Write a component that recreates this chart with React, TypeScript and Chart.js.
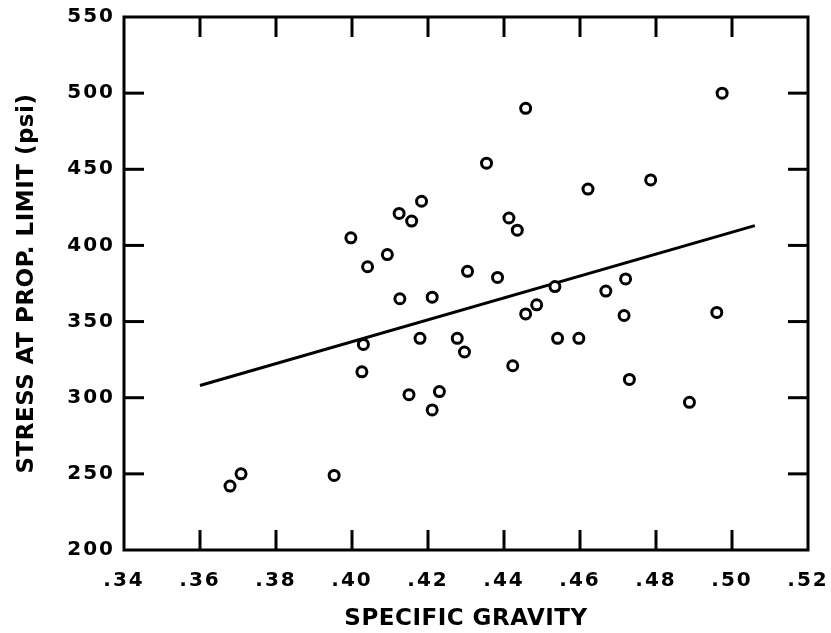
import React, { useEffect, useRef } from 'react';
import { Chart, registerables } from 'chart.js';

Chart.register(...registerables);

// ---- data ----
const specificGravity = [
  0.3679, 0.3708, 0.3953, 0.3997, 0.4041, 0.4093, 0.4124, 0.4157, 0.4183, 0.4126,
  0.4211, 0.4179, 0.403, 0.4026, 0.415, 0.423, 0.4211, 0.4457, 0.4974, 0.4354,
  0.4621, 0.4786, 0.4413, 0.4435, 0.4304, 0.4383, 0.4534, 0.472, 0.4668, 0.4716,
  0.496, 0.4457, 0.4486, 0.4277, 0.4296, 0.4541, 0.4597, 0.4423, 0.473, 0.4888,
];
const stressPsi = [
  242, 250, 249, 405, 386, 394, 421, 416, 429, 365,
  366, 339, 335, 317, 302, 304, 292, 490, 500, 454,
  437, 443, 418, 410, 383, 379, 373, 378, 370, 354,
  356, 355, 361, 339, 330, 339, 339, 321, 312, 297,
];
const fitLineGravity = [0.36, 0.506];
const fitLineStress = [308, 413];

const xMin = 0.34;
const xMax = 0.52;
const xStep = 0.02;
const yMin = 200;
const yMax = 550;
const yStep = 50;

const xTitle = 'SPECIFIC GRAVITY';
const yTitle = 'STRESS AT PROP. LIMIT (psi)';

const FONT = "'DejaVu Sans', sans-serif";

const frameTicksPlugin = {
  id: 'frameTicks',
  beforeDraw(chart: any) {
    for (const id of ['x', 'y']) {
      const s: any = chart.scales[id];
      if (s && !s.__patched) {
        const dl = s.drawLabels.bind(s);
        const dt = s.drawTitle.bind(s);
        s.drawLabels = (area: any) => {
          const c: any = chart.ctx;
          c.save();
          c.letterSpacing = '2px';
          dl(area);
          c.restore();
        };
        s.drawTitle = () => {
          const c: any = chart.ctx;
          c.save();
          c.letterSpacing = '0.5px';
          dt();
          c.restore();
        };
        s.__patched = true;
      }
    }
  },
  afterDraw(chart: any) {
    const { ctx, chartArea } = chart;
    const { left, right, top, bottom } = chartArea;
    const len = 20;
    const w = 3;
    const xs = chart.scales.x;
    const ys = chart.scales.y;
    ctx.save();
    ctx.fillStyle = '#000';
    ctx.strokeStyle = '#000';
    ctx.lineWidth = 3;
    const nx = Math.round((xMax - xMin) / xStep);
    for (let i = 1; i < nx; i++) {
      const px = xs.getPixelForValue(xMin + i * xStep);
      ctx.fillRect(px - w / 2, bottom - len, w, len);
      ctx.fillRect(px - w / 2, top, w, len);
    }
    const ny = Math.round((yMax - yMin) / yStep);
    for (let i = 1; i < ny; i++) {
      const py = ys.getPixelForValue(yMin + i * yStep);
      ctx.fillRect(left, py - w / 2, len, w);
      ctx.fillRect(right - len, py - w / 2, len, w);
    }
    ctx.strokeRect(left, top, right - left, bottom - top);
    ctx.restore();
  },
};

export default function App() {
  const canvasRef = useRef<HTMLCanvasElement | null>(null);

  useEffect(() => {
    const canvas = canvasRef.current;
    if (!canvas) return;
    const points = specificGravity.map((g, i) => ({ x: g, y: stressPsi[i] }));
    const line = fitLineGravity.map((g, i) => ({ x: g, y: fitLineStress[i] }));

    const chart = new Chart(canvas, {
      type: 'scatter',
      data: {
        datasets: [
          {
            type: 'scatter',
            data: points,
            order: 0,
            pointStyle: 'circle',
            pointRadius: 5,
            pointBorderWidth: 3,
            pointBorderColor: '#000',
            pointBackgroundColor: '#fff',
          } as any,
          {
            type: 'line',
            data: line,
            order: 1,
            showLine: true,
            borderColor: '#000',
            borderWidth: 3,
            pointRadius: 0,
            fill: false,
          } as any,
        ],
      },
      plugins: [frameTicksPlugin],
      options: {
        responsive: false,
        animation: false,
        devicePixelRatio: 1,
        layout: { padding: { top: 17, right: 23, left: 0, bottom: 0 } },
        plugins: {
          legend: { display: false },
          tooltip: { enabled: false },
        },
        scales: {
          x: {
            type: 'linear',
            min: xMin,
            max: xMax,
            grid: { display: false, drawTicks: false },
            border: { display: false },
            afterFit: (s: any) => {
              s.height = 83;
              s.paddingLeft = 0;
              s.paddingRight = 0;
            },
            ticks: {
              stepSize: xStep,
              padding: 19,
              color: '#000',
              font: { family: FONT, size: 20, weight: 'bold' },
              maxRotation: 0,
              callback: (v: any) => Number(v).toFixed(2).replace(/^0/, ''),
            },
            title: {
              display: true,
              text: xTitle,
              color: '#000',
              font: { family: FONT, size: 23, weight: 'bold' },
              padding: { top: 0, bottom: 0 },
            },
          },
          y: {
            type: 'linear',
            min: yMin,
            max: yMax,
            grid: { display: false, drawTicks: false },
            border: { display: false },
            afterFit: (s: any) => {
              s.width = 124;
              s.paddingTop = 0;
              s.paddingBottom = 0;
            },
            ticks: {
              stepSize: yStep,
              padding: 9,
              color: '#000',
              font: { family: FONT, size: 20, weight: 'bold' },
              callback: (v: any) => String(v),
            },
            title: {
              display: true,
              text: yTitle,
              color: '#000',
              font: { family: FONT, size: 23, weight: 'bold' },
              padding: { top: 13, bottom: 0 },
            },
          },
        },
      } as any,
    });
    return () => chart.destroy();
  }, []);

  return (
    <div style={{ position: 'absolute', left: 0, top: 0, width: 831, height: 633, background: '#fff' }}>
      <canvas ref={canvasRef} width={831} height={633} />
    </div>
  );
}
